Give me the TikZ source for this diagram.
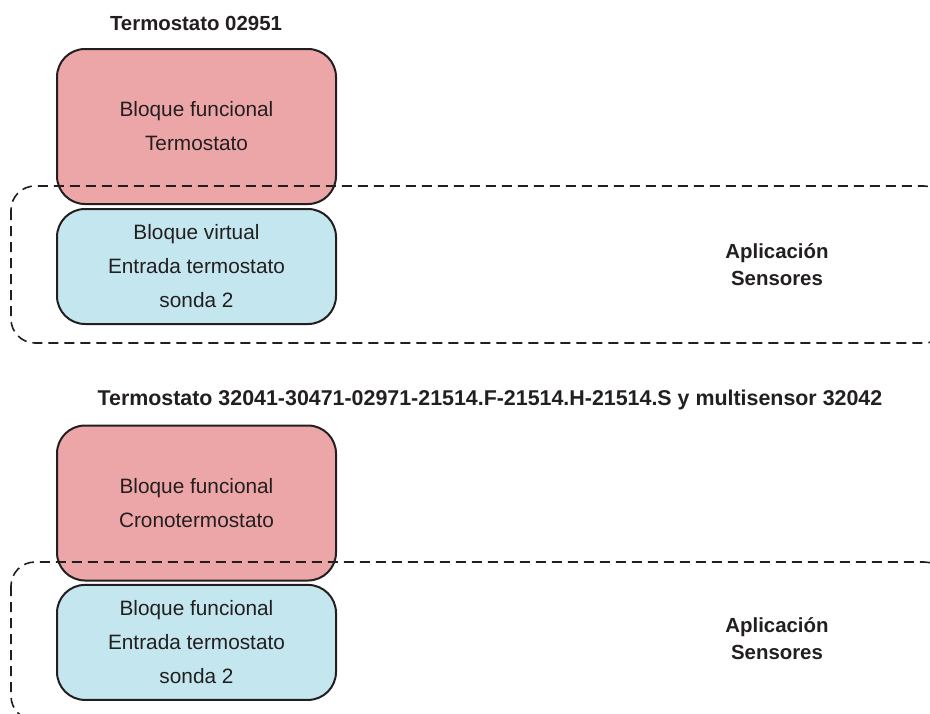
\documentclass[tikz,border=0pt]{standalone}
\usepackage{fontspec}
\setmainfont{Liberation Sans}
\usetikzlibrary{positioning}
\definecolor{blockred}{HTML}{EDA6A7}
\definecolor{blockblue}{HTML}{C4E6EF}
\definecolor{edgegray}{HTML}{231F20}
\tikzset{
  redblock/.style={draw=edgegray,line width=1pt,rounded corners=14pt,fill=blockred,align=center,minimum width=139.5pt,minimum height=77.5pt,inner sep=0pt,text=edgegray,font=\fontsize{10.4}{17}\selectfont},
  blueblock/.style={draw=edgegray,line width=1pt,rounded corners=14pt,fill=blockblue,align=center,minimum width=139.5pt,minimum height=57.5pt,inner sep=0pt,text=edgegray,font=\fontsize{10.4}{17}\selectfont},
  appframe/.style={draw=edgegray,line width=.8pt,dash pattern=on 5pt off 3pt,rounded corners=12pt},
  paneltitle/.style={font=\bfseries\fontsize{10.2}{12}\selectfont,text=edgegray},
  applabel/.style={align=center,font=\bfseries\fontsize{10.2}{13.5}\selectfont,text=edgegray},
}

\begin{document}
\begin{tikzpicture}[x=.5pt,y=-.5pt]
      \useasboundingbox (0,0) rectangle (930,713);
      % first panel
      \node[paneltitle] (title1) at (196,23) {Termostato 02951};
      \node[redblock] (func1) at (196.5,126.5) {Bloque funcional\\Termostato};
      \node[blueblock,below=1.5pt of func1] (virt1) {Bloque virtual\\Entrada termostato\\sonda 2};
      % second panel
      \node[paneltitle,font=\bfseries\fontsize{10.7}{12}\selectfont] (title2) at (490,400) {Termostato 32041-30471-02971-21514.F-21514.H-21514.S y multisensor 32042};
      \node[redblock] (func2) at (196.5,503) {Bloque funcional\\Cronotermostato};
      \node[blueblock,below=1.2pt of func2] (virt2) {Bloque funcional\\Entrada termostato\\sonda 2};
      % application frames
      \begin{scope}
        \clip (0,0) rectangle (930,713);
        \foreach \yt/\yb in {186/343,562/720}{
          \draw[appframe] (11,\yt) rectangle (948,\yb);
        }
      \end{scope}
      \node[applabel] (app1) at (777,265) {Aplicación\\Sensores};
      \node[applabel] (app2) at (777,639) {Aplicación\\Sensores};
    \end{tikzpicture}
\end{document}
